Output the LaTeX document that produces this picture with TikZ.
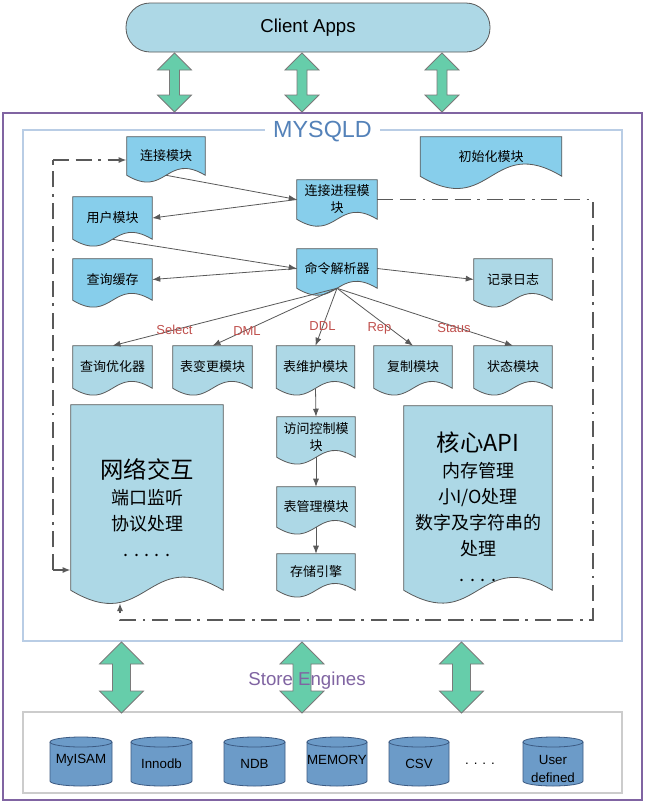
\documentclass[tikz,border=0pt]{standalone}
\usepackage{fontspec}
\setmainfont{Liberation Sans}
\newfontfamily\cjk{Noto Sans CJK SC}
\usetikzlibrary{calc,backgrounds,arrows.meta}

\definecolor{docsky}{RGB}{135,206,235}
\definecolor{doclight}{RGB}{173,216,230}
\definecolor{lineg}{RGB}{89,89,89}
\definecolor{mint}{RGB}{102,205,170}
\definecolor{mysqlblue}{RGB}{185,205,229}
\definecolor{titleblue}{RGB}{84,130,185}
\definecolor{framepurple}{RGB}{128,100,162}
\definecolor{oprred}{RGB}{192,80,77}
\definecolor{cylfill}{RGB}{108,155,200}
\definecolor{cylline}{RGB}{60,90,130}

\begin{document}
\begin{tikzpicture}[x=0.75pt,y=-0.75pt,>={Latex[length=6pt,width=4.5pt]},
	boxsize/.style 2 args={minimum width=#1*0.75pt,minimum height=#2*0.75pt},
	docbox/.style={inner sep=0pt,align=center,font=\cjk\fontsize{9.75}{12.75}\selectfont},
	docedge/.style={draw=lineg,line width=0.6pt},
	link/.style={draw=lineg,line width=0.6pt,->},
	loopline/.style={draw=lineg,line width=1.4pt,dash pattern=on 12pt off 5pt on 12pt off 5pt on 2pt off 5pt},
	opname/.style={text=oprred,font=\fontsize{9.75}{11}\selectfont},
	dbarrow/.style={fill=mint,draw=lineg!80,line width=0.6pt},
	cyl/.style={fill=cylfill,draw=cylline,line width=0.6pt},
	engname/.style={align=center,font=\fontsize{10}{13}\selectfont},
	bigtext/.style={align=center,font=\cjk\fontsize{13.5}{19.5}\selectfont}]
	\useasboundingbox (0,0) rectangle (645,804);
	\begin{scope}[on background layer]
		\fill[white] (0,0) rectangle (645,804);
	\end{scope}

	% frames
	\draw[framepurple,line width=1.5pt] (3,113) rectangle (642,800);
	\draw[mysqlblue,line width=1.1pt] (23,130) rectangle (622,641);
	\draw[black!20,line width=1pt] (23,712) rectangle (622,793);
	\node[fill=white,text=titleblue,font=\fontsize{17.5}{20}\selectfont,inner xsep=6pt,inner ysep=1pt] (mysqld) at (322.5,132) {MYSQLD};

	\node[draw=lineg,line width=0.6pt,fill=doclight,rounded corners=18pt,boxsize={364}{49},font=\fontsize{14}{16}\selectfont] (client) at (308,27.5) {Client Apps};

	% green double arrows
	\foreach \cx/\ty/\by/\hw/\sw/\hl in {174.5/53/112/17/5/17, 302/53/112/17/5/17, 442/53/112/17/5/17,
		121.5/642/713/22/9/22, 302/642/713/22/9/22, 461.5/642/713/22/9/22}
		\filldraw[dbarrow] (\cx,\ty) -- (\cx+\hw,\ty+\hl) -- (\cx+\sw,\ty+\hl) -- (\cx+\sw,\by-\hl)
			-- (\cx+\hw,\by-\hl) -- (\cx,\by) -- (\cx-\hw,\by-\hl) -- (\cx-\sw,\by-\hl)
			-- (\cx-\sw,\ty+\hl) -- (\cx-\hw,\ty+\hl) -- cycle;
	\node[text=framepurple,font=\fontsize{14}{16}\selectfont] (storelbl) at (307,681) {Store Engines};

	% modules
	\node[docbox,boxsize={78}{38}] (conn) at (166,156) {连接模块};
	\node[docbox,boxsize={141}{39}] (init) at (491,156.5) {初始化模块};
	\node[docbox,boxsize={80}{39}] (proc) at (337,199.5) {连接进程模\\块};
	\node[docbox,boxsize={79}{42}] (user) at (112.5,218) {用户模块};
	\node[docbox,boxsize={79}{41}] (cache) at (112.5,279.5) {查询缓存};
	\node[docbox,boxsize={80}{39}] (parse) at (337,268.5) {命令解析器};
	\node[docbox,boxsize={78}{41}] (log) at (513,279.5) {记录日志};
	\node[docbox,boxsize={79}{42}] (opt) at (112.5,367) {查询优化器};
	\node[docbox,boxsize={79}{42}] (dml) at (212.5,367) {表变更模块};
	\node[docbox,boxsize={78}{42}] (maint) at (315.5,367) {表维护模块};
	\node[docbox,boxsize={78}{42}] (repl) at (413,367) {复制模块};
	\node[docbox,boxsize={78}{42}] (stat) at (513,367) {状态模块};
	\node[docbox,boxsize={78}{40}] (acl) at (316,437) {访问控制模\\块};
	\node[docbox,boxsize={78}{40}] (tblmgr) at (316,507) {表管理模块};
	\node[docbox,boxsize={78}{36}] (store) at (316,572) {存储引擎};
	\node[boxsize={152}{185}] (net) at (147,497.5) {};
	\node[boxsize={148}{184}] (api) at (478,498) {};
	\node[bigtext] (nettext) at (147,508) {{\fontsize{17.5}{21}\selectfont 网络交互}\\端口监听\\协议处理\\. . . . .};
	\node[bigtext] (apitext) at (478,507) {{\fontsize{17.5}{21}\selectfont 核心API}\\内存管理\\小I/O处理\\数字及字符串的\\处理\\. . . .};

	\begin{scope}[on background layer]
		\foreach \n in {conn,init,proc,user,cache,parse}
			\filldraw[docedge,fill=docsky] (\n.north west) -- (\n.north east) -- (\n.south east)
				.. controls ($(\n.south)!0.6!90:(\n.south east)$) and ($(\n.south)!0.6!-90:(\n.south east)$) .. (\n.south west) -- cycle;
		\foreach \n in {log,opt,dml,maint,repl,stat,acl,tblmgr,store,net,api}
			\filldraw[docedge,fill=doclight] (\n.north west) -- (\n.north east) -- (\n.south east)
				.. controls ($(\n.south)!0.6!90:(\n.south east)$) and ($(\n.south)!0.6!-90:(\n.south east)$) .. (\n.south west) -- cycle;
	\end{scope}

	% links
	\draw[link] (conn.south) -- (proc.west);
	\draw[link] (proc.west) -- (user.east);
	\draw[link] (user.south) -- (parse.west);
	\draw[link] (parse.west) -- (cache.east);
	\draw[link] (parse.east) -- (log.west);
	\foreach \t in {opt,dml,maint,repl,stat}
		\draw[link] (parse.south) -- (\t.north);
	\draw[link] (maint.south) -- (acl.north);
	\draw[link] (acl.south) -- (tblmgr.north);
	\draw[link] (tblmgr.south) -- (store.north);

	\node[opname] (lblsel) at (174.5,330) {Select};
	\node[opname] (lbldml) at (247,331) {DML};
	\node[opname] (lblddl) at (322.5,326) {DDL};
	\node[opname] (lblrep) at (379.5,328.5) {Rep};
	\node[opname] (lblsta) at (454,328.5) {Staus};

	% loops
	\coordinate (lt) at (53,160);
	\coordinate (lb) at (53,570);
	\coordinate (rc) at (593,620);
	\coordinate (rb) at (120,620);
	\coordinate (netin) at (120,603);
	\draw[loopline] (lb) -- (lt);
	\draw[loopline,->] (lt) -- (conn.west |- lt);
	\draw[loopline,->] (lb) -- (net.west |- lb);
	\draw[loopline,->] (proc.east) -| (rc) -- (rb) -- (netin);

	% store engines
	\foreach \l/\r/\ly/\n/\txt in {50/112/760/myisam/MyISAM, 131/192/764/innodb/Innodb, 224/285/764/ndb/NDB,
		307/367/760/memory/MEMORY, 389/449/764/csv/CSV, 523/583/769/userdef/{User\\defined}}
	{
		\filldraw[cyl] (\l,742) -- (\l,781) arc[start angle=180,end angle=0,x radius=(\r-\l)/2,y radius=5]
			-- (\r,742) arc[start angle=0,end angle=-180,x radius=(\r-\l)/2,y radius=5] -- cycle;
		\draw[cyl,fill=none] (\l,742) arc[start angle=180,end angle=0,x radius=(\r-\l)/2,y radius=5];
		\node[engname] (\n) at ({(\l+\r)/2},\ly) {\txt};
	}
	\node[engname] (engdots) at (480,764) {. . . .};
\end{tikzpicture}
\end{document}
